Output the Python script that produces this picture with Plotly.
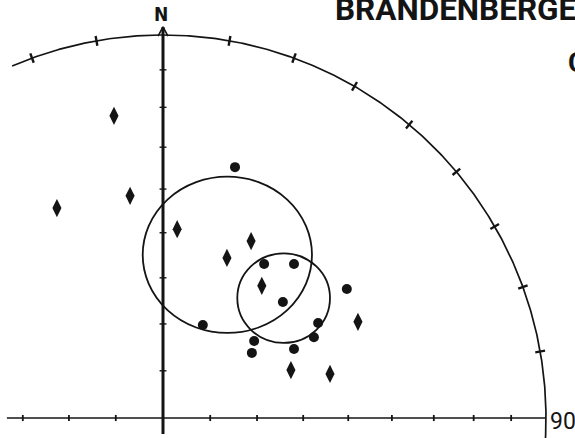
import numpy as np
import plotly.graph_objects as go

# Equal-area (Schmidt) net, upper-right quadrant; coordinates in units of the net radius.
# Poles plotted as diamonds
diamond_east = [-0.277, -0.128, -0.086, 0.037, 0.230, 0.167, 0.258, 0.334, 0.509, 0.436]
diamond_north = [0.548, 0.789, 0.580, 0.493, 0.462, 0.418, 0.345, 0.125, 0.251, 0.115]

# Poles plotted as dots
dot_east = [0.188, 0.264, 0.342, 0.313, 0.104, 0.238, 0.232, 0.342, 0.480, 0.405, 0.394]
dot_north = [0.655, 0.402, 0.402, 0.303, 0.243, 0.201, 0.170, 0.180, 0.337, 0.248, 0.211]

# Confidence cones around the two mean directions
cone_east = [0.168, 0.315]
cone_north = [0.426, 0.313]
cone_half_width = [0.221, 0.121]
cone_half_height = [0.204, 0.117]

# Graduations
dip_ticks = [10, 20, 30, 40, 50, 60, 70, 80]
west_dip_ticks = [10, 20, 30]
azimuth_ticks = [-20, -10, 10, 20, 30, 40, 50, 60, 70, 80]
primitive_start, primitive_end = -23.2, 93.0

INK = "#141414"


def equal_area(theta_deg):
    return np.sqrt(2.0) * np.sin(np.radians(theta_deg) / 2.0)


fig = go.Figure()

# Primitive circle
az = np.radians(np.linspace(primitive_start, primitive_end, 400))
fig.add_trace(go.Scatter(x=np.sin(az), y=np.cos(az), mode="lines",
                         line=dict(color=INK, width=1.7), hoverinfo="skip"))

# Azimuth graduations across the primitive
tx, ty = [], []
for a in azimuth_ticks:
    r = np.radians(a)
    for rr in (0.987, 1.013):
        tx.append(rr * np.sin(r)); ty.append(rr * np.cos(r))
    tx.append(None); ty.append(None)
fig.add_trace(go.Scatter(x=tx, y=ty, mode="lines", line=dict(color=INK, width=2.4),
                         hoverinfo="skip"))

# E-W diameter with dip graduations
fig.add_trace(go.Scatter(x=[-equal_area(33.5), 1.0], y=[0, 0], mode="lines",
                         line=dict(color=INK, width=1.5), hoverinfo="skip"))
hx, hy = [], []
for d in dip_ticks:
    hx += [equal_area(d)] * 2 + [None]; hy += [-0.008, 0.008, None]
for d in west_dip_ticks:
    hx += [-equal_area(d)] * 2 + [None]; hy += [-0.008, 0.008, None]
fig.add_trace(go.Scatter(x=hx, y=hy, mode="lines", line=dict(color=INK, width=1.8),
                         hoverinfo="skip"))

# N-S diameter with dip graduations
fig.add_trace(go.Scatter(x=[0, 0], y=[-0.042, 1.021], mode="lines",
                         line=dict(color=INK, width=3), hoverinfo="skip"))
vx, vy = [], []
for d in dip_ticks:
    vx += [-0.009, 0.009, None]; vy += [equal_area(d)] * 2 + [None]
fig.add_trace(go.Scatter(x=vx, y=vy, mode="lines", line=dict(color=INK, width=1.4),
                         hoverinfo="skip"))

# North arrow head
fig.add_trace(go.Scatter(x=[-0.013, 0, 0.013], y=[0.997, 1.021, 0.997], mode="lines",
                         line=dict(color=INK, width=1.6), hoverinfo="skip"))

# Confidence cones
for ce, cn, hw, hh in zip(cone_east, cone_north, cone_half_width, cone_half_height):
    fig.add_shape(type="circle", xref="x", yref="y",
                  x0=ce - hw, x1=ce + hw, y0=cn - hh, y1=cn + hh,
                  line=dict(color=INK, width=1.8))

# Poles
fig.add_trace(go.Scatter(x=diamond_east, y=diamond_north, mode="markers",
                         marker=dict(symbol="diamond-tall", size=13, color=INK,
                                     line=dict(width=0)), hoverinfo="skip"))
fig.add_trace(go.Scatter(x=dot_east, y=dot_north, mode="markers",
                         marker=dict(symbol="circle", size=10, color=INK,
                                     line=dict(width=0)), hoverinfo="skip"))

TITLE_FONT = "Roboto"
annotations = [
    dict(x=-0.004, y=1.055, text="<b>N</b>", showarrow=False, xanchor="center",
         yanchor="middle", font=dict(family="DejaVu Sans Condensed", size=19, color=INK)),
    dict(x=1.005, y=-0.008, text="90", showarrow=False, xanchor="left",
         yanchor="middle", font=dict(family="Roboto", size=23, color=INK)),
    dict(x=0.444, y=1.066, text="<b>BRANDENBERGER</b>", showarrow=False, xanchor="left",
         yanchor="middle", font=dict(family=TITLE_FONT, size=31.5, color=INK)),
    dict(x=1.052, y=0.928, text="<b>C</b>", showarrow=False, xanchor="left",
         yanchor="middle", font=dict(family=TITLE_FONT, size=28, color=INK)),
]

fig.update_layout(
    width=575, height=438, autosize=False,
    margin=dict(l=0, r=0, t=0, b=0),
    paper_bgcolor="white", plot_bgcolor="white",
    showlegend=False,
    annotations=annotations,
    xaxis=dict(range=[-163 / 383, 412 / 383], visible=False, fixedrange=True),
    yaxis=dict(range=[-20 / 383, 418 / 383], visible=False, fixedrange=True),
)

fig.write_html("out.html")
